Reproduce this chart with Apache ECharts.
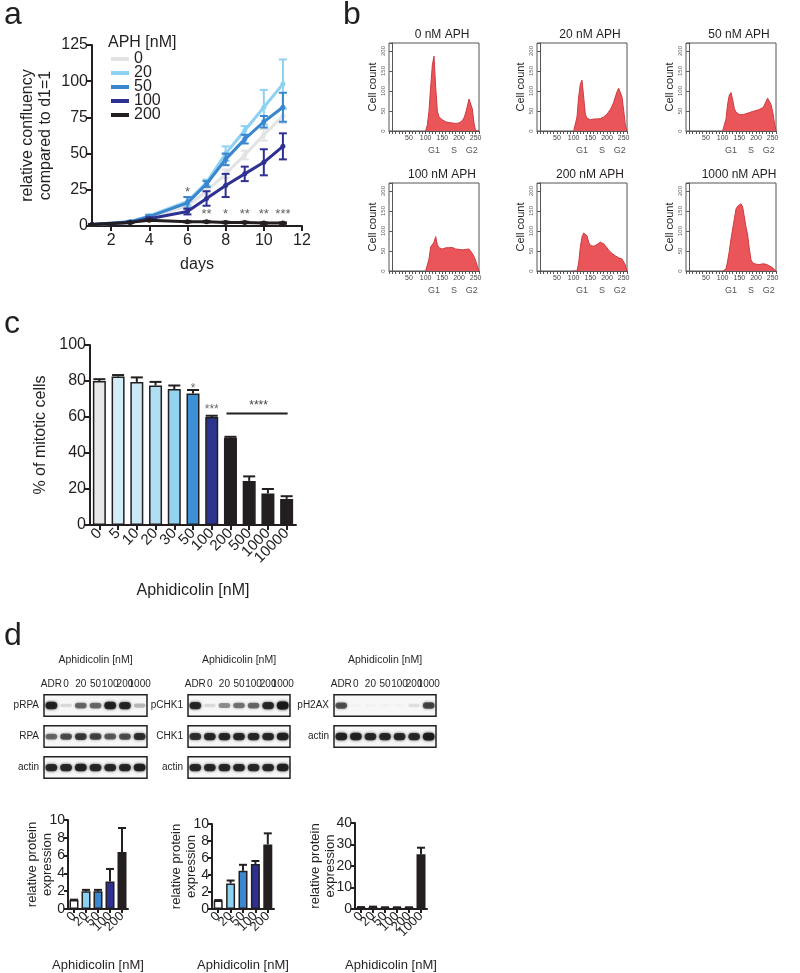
<!DOCTYPE html>
<html>
<head>
<meta charset="utf-8">
<script src="https://cdn.jsdelivr.net/npm/echarts@6/dist/echarts.min.js"></script>
<style>
body{margin:0;background:#fff}
#main{width:800px;height:973px}
</style>
</head>
<body>
<div id="main"></div>
<script>
// a - confluency curves
var days = [1, 3, 4, 6, 7, 8, 9, 10, 11];
var aphNames = ['0', '20', '50', '100', '200'];
var conf0 = [1, 2.5, 5.5, 14, 24, 36, 49, 63, 76];
var conf20 = [1, 3, 7, 17, 30, 50, 66, 82, 98];
var conf50 = [1, 3, 6.5, 16, 29, 46, 60, 72, 82];
var conf100 = [1, 2.5, 5, 10, 19, 28, 36, 44, 55];
var conf200 = [1, 2.5, 4, 3, 3, 2.5, 2.5, 2, 2];
var err0 = [0, 0.5, 0.5, 1, 2, 3, 3, 4, 5];
var err20 = [0, 0.5, 1, 3, 2, 5, 3, 12, 17];
var err50 = [0, 0.5, 1, 4, 2, 4, 3, 4, 10];
var err100 = [0, 0.5, 1, 2, 5, 8, 5, 9, 9];
var err200 = [0, 0.3, 0.5, 0.5, 0.5, 0.5, 0.5, 0.5, 0.5];
var dayTicks = [2, 4, 6, 8, 10, 12];
var sigDays = [6, 7, 8, 9, 10, 11];
var sigY = [23, 8, 8, 8, 8, 8];
var sigText = ['*', '**', '*', '**', '**', '***'];

// b - DNA content histograms
var histTitles = ['0 nM APH', '20 nM APH', '50 nM APH', '100 nM APH', '200 nM APH', '1000 nM APH'];
var histX = [100, 105, 110, 115, 120, 125, 130, 135, 140, 145, 150, 155, 160, 165, 170, 175, 180, 185, 190, 195, 200, 205, 210, 215, 220, 225, 230, 235, 240, 245, 250, 255, 260];
var hist0 = [0, 15, 50, 110, 165, 187, 110, 50, 35, 30, 28, 25, 23, 22, 21, 21, 20, 20, 19, 19, 20, 22, 26, 33, 45, 62, 80, 78, 55, 20, 0, 0, 0];
var hist20 = [0, 0, 35, 85, 118, 127, 85, 42, 32, 29, 28, 29, 30, 31, 30, 32, 31, 33, 35, 38, 42, 47, 54, 62, 72, 85, 98, 107, 106, 85, 52, 15, 0];
var hist50 = [0, 0, 30, 68, 90, 96, 78, 56, 47, 43, 41, 40, 41, 42, 43, 44, 46, 47, 49, 50, 51, 52, 54, 55, 58, 64, 74, 82, 78, 66, 48, 22, 0];
var hist100 = [0, 0, 30, 60, 66, 72, 86, 66, 58, 56, 55, 57, 58, 56, 58, 60, 59, 57, 55, 56, 54, 55, 53, 55, 54, 57, 55, 50, 44, 36, 26, 12, 0];
var hist200 = [0, 0, 0, 20, 60, 85, 95, 100, 88, 72, 64, 60, 62, 65, 66, 70, 72, 70, 68, 64, 58, 52, 48, 44, 40, 38, 36, 33, 32, 30, 28, 15, 0];
var hist1000 = [0, 0, 5, 25, 50, 80, 105, 130, 155, 162, 166, 168, 160, 135, 110, 90, 55, 28, 20, 18, 17, 16, 16, 17, 18, 19, 17, 15, 13, 11, 8, 4, 0];
var phaseX = [125, 185, 238];
var phaseText = ['G1', 'S', 'G2'];

// c - mitotic cells
var mitoCat = ['0', '5', '10', '20', '30', '50', '100', '200', '500', '1000', '10000'];
var mitoVal = [80, 82.5, 79.5, 77.5, 75.5, 73, 60, 48.5, 24.5, 17.5, 14.5];
var mitoErr = [1, 0.8, 2.5, 2, 2, 2, 0.7, 0.5, 2.5, 2.5, 1.5];
var mitoSigIdx = [5, 6];
var mitoSigY = [76, 64];
var mitoSigText = ['*', '***'];

// d - blots (band intensity 0..1)
var lanes = ['ADR', '0', '20', '50', '100', '200', '1000'];
var blot1Rows = ['pRPA', 'RPA', 'actin'];
var pRPA = [0.9, 0.12, 0.55, 0.55, 0.9, 0.85, 0.25];
var RPA = [0.55, 0.65, 0.75, 0.7, 0.6, 0.65, 0.8];
var actin1 = [0.85, 0.85, 0.9, 0.85, 0.85, 0.85, 0.9];
var blot2Rows = ['pCHK1', 'CHK1', 'actin'];
var pCHK1 = [0.85, 0.12, 0.4, 0.5, 0.55, 0.85, 1.0];
var CHK1 = [0.8, 0.85, 0.85, 0.85, 0.85, 0.85, 0.9];
var actin2 = [0.85, 0.85, 0.85, 0.85, 0.85, 0.85, 0.9];
var blot3Rows = ['pH2AX', 'actin'];
var pH2AX = [0.65, 0.02, 0.02, 0.02, 0.02, 0.1, 0.7];
var actin3 = [0.9, 0.9, 0.85, 0.85, 0.85, 0.85, 0.95];

// d - quantification
var qCat = ['0', '20', '50', '100', '200'];
var qRPA = [1.0, 2.0, 2.0, 3.1, 6.4];
var qRPAErr = [0.05, 0.15, 0.15, 1.4, 2.7];
var qCHK1 = [1.0, 3.0, 4.5, 5.3, 7.6];
var qCHK1Err = [0.05, 0.35, 0.7, 0.35, 1.3];
var qCat3 = ['0', '20', '50', '100', '200', '1000'];
var qH2AX = [0.8, 0.9, 0.7, 0.7, 0.7, 25.5];
var qH2AXErr = [0.1, 0.2, 0.1, 0.1, 0.1, 3];

var FONT = 'Liberation Sans, Arial, sans-serif';
var INK = '#231f20';
var aColors = ['#e2e3e4', '#8dd1f2', '#3a86cf', '#2e3192', INK];
var mitoColors = ['#e6e7e8', '#d4eef9', '#c9e9f7', '#b0dff3', '#93d3ef', '#3d8fd6', '#2b3590', INK, INK, INK, INK];
var qColors = ['#ffffff', '#8dd1f2', '#3a86cf', '#2e3192', INK];

var grids = [], xAxes = [], yAxes = [], series = [], texts = [];

function errSeries(gi, color, data, capW, both, z) {
    series.push({
        type: 'custom', xAxisIndex: gi, yAxisIndex: gi, data: data, z: z || 4, silent: true,
        renderItem: function (params, api) {
            var top = api.coord([api.value(0), api.value(2)]);
            var bot = api.coord([api.value(0), api.value(1)]);
            var kids = [
                {type: 'line', shape: {x1: top[0], y1: top[1], x2: bot[0], y2: bot[1]}, style: {stroke: color, lineWidth: 2}},
                {type: 'line', shape: {x1: top[0] - capW, y1: top[1], x2: top[0] + capW, y2: top[1]}, style: {stroke: color, lineWidth: 2}}
            ];
            if (both) {
                kids.push({type: 'line', shape: {x1: bot[0] - capW, y1: bot[1], x2: bot[0] + capW, y2: bot[1]}, style: {stroke: color, lineWidth: 2}});
            }
            return {type: 'group', children: kids};
        }
    });
}

function axisLine(w, c) {
    return {show: true, lineStyle: {color: c || INK, width: w || 2}};
}

// ---------- a ----------
grids.push({left: 92, top: 45, width: 210, height: 181});
xAxes.push({
    gridIndex: 0, type: 'value', min: 1, max: 12,
    axisLine: axisLine(2),
    axisTick: {show: true, customValues: dayTicks, length: 5, lineStyle: {color: INK, width: 2}},
    axisLabel: {customValues: dayTicks, fontSize: 16, color: INK, margin: 7},
    splitLine: {show: false},
    name: 'days', nameLocation: 'middle', nameGap: 31,
    nameTextStyle: {fontSize: 16, color: INK}
});
yAxes.push({
    gridIndex: 0, type: 'value', min: 0, max: 125, interval: 25,
    axisLine: axisLine(2),
    axisTick: {show: true, length: 5, lineStyle: {color: INK, width: 2}},
    axisLabel: {fontSize: 16, color: INK, margin: 4},
    splitLine: {show: false},
    name: 'relative confluency\ncompared to d1=1', nameLocation: 'middle', nameGap: 37, nameMoveOverlap: false,
    nameTextStyle: {fontSize: 16, color: INK, lineHeight: 18}
});
var confData = [conf0, conf20, conf50, conf100, conf200];
var errData = [err0, err20, err50, err100, err200];
for (var k = 0; k < 5; k++) {
    var pts = [], ebs = [];
    for (var i = 0; i < days.length; i++) {
        pts.push([days[i], confData[k][i]]);
        ebs.push([days[i], confData[k][i] - errData[k][i], confData[k][i] + errData[k][i]]);
    }
    series.push({
        name: aphNames[k], type: 'line', xAxisIndex: 0, yAxisIndex: 0, data: pts,
        color: aColors[k], lineStyle: {width: 3}, symbol: 'circle', symbolSize: 5, z: 3 + k
    });
    errSeries(0, aColors[k], ebs, 4, true, 3 + k);
}
var sigPts = [];
for (var i = 0; i < sigDays.length; i++) sigPts.push([sigDays[i], sigY[i]]);
series.push({
    type: 'scatter', xAxisIndex: 0, yAxisIndex: 0, data: sigPts, symbolSize: 1,
    itemStyle: {color: 'rgba(0,0,0,0)'}, z: 10,
    label: {show: true, position: 'inside', fontSize: 13, color: '#333',
        formatter: function (p) { return sigText[p.dataIndex]; }}
});

// ---------- b ----------
var hists = [hist0, hist20, hist50, hist100, hist200, hist1000];
var hLeft = [389, 537, 686];
var hTop = [43, 183];
for (var h = 0; h < 6; h++) {
    var gi = grids.length;
    var gl = hLeft[h % 3], gt = hTop[Math.floor(h / 3)];
    grids.push({left: gl, top: gt, width: 90, height: 88, show: true, borderColor: '#555', borderWidth: 1});
    xAxes.push({
        gridIndex: gi, type: 'value', min: -10, max: 260, interval: 10,
        axisLine: axisLine(1, '#555'),
        axisTick: {show: true, length: 3, lineStyle: {color: '#555'}},
        axisLabel: {fontSize: 7, color: '#444', margin: 4,
            formatter: function (v) { return (v > 0 && v % 50 === 0) ? v : ''; }},
        splitLine: {show: false}
    });
    yAxes.push({
        gridIndex: gi, type: 'value', min: 0, max: 220, interval: 50,
        axisLine: axisLine(1, '#555'),
        axisTick: {show: true, length: 3, lineStyle: {color: '#555'}},
        axisLabel: {fontSize: 6, color: '#666', rotate: 90, margin: 3,
            formatter: function (v) { return v % 50 === 0 ? v : ''; }},
        splitLine: {show: false},
        name: 'Cell count', nameLocation: 'middle', nameGap: 11, nameMoveOverlap: false,
        nameTextStyle: {fontSize: 11, color: INK}
    });
    var hp = [];
    for (var i = 0; i < histX.length; i++) hp.push([histX[i], hists[h][i]]);
    series.push({
        type: 'line', xAxisIndex: gi, yAxisIndex: gi, data: hp, symbol: 'none',
        lineStyle: {color: '#cf3a40', width: 1}, areaStyle: {color: '#ea555a', opacity: 1}
    });
    var php = [];
    for (var i = 0; i < phaseX.length; i++) php.push([phaseX[i], 0]);
    series.push({
        type: 'scatter', xAxisIndex: gi, yAxisIndex: gi, data: php, symbolSize: 1, clip: false,
        itemStyle: {color: 'rgba(0,0,0,0)'},
        label: {show: true, position: 'bottom', distance: 15, fontSize: 9, color: INK,
            formatter: function (p) { return phaseText[p.dataIndex]; }}
    });
    texts.push({type: 'text', x: gl + 53, y: gt - 8,
        style: {text: histTitles[h], fill: INK, align: 'center', verticalAlign: 'middle', font: '12px ' + FONT}});
}

// ---------- c ----------
var gc = grids.length;
grids.push({left: 90, top: 345, width: 206, height: 180});
xAxes.push({
    gridIndex: gc, type: 'category', data: mitoCat,
    axisLine: axisLine(2),
    axisTick: {show: true, alignWithLabel: true, length: 5, lineStyle: {color: INK, width: 2}},
    axisLabel: {interval: 0, rotate: 45, fontSize: 15, color: INK, margin: 6},
    name: 'Aphidicolin [nM]', nameLocation: 'middle', nameGap: 58,
    nameTextStyle: {fontSize: 16, color: INK}
});
yAxes.push({
    gridIndex: gc, type: 'value', min: 0, max: 100, interval: 20,
    axisLine: axisLine(2),
    axisTick: {show: true, length: 5, lineStyle: {color: INK, width: 2}},
    axisLabel: {fontSize: 16, color: INK, margin: 4},
    splitLine: {show: false},
    name: '% of mitotic cells', nameLocation: 'middle', nameGap: 41, nameMoveOverlap: false,
    nameTextStyle: {fontSize: 16, color: INK}
});
series.push({
    type: 'bar', xAxisIndex: gc, yAxisIndex: gc, data: mitoVal, barWidth: 13,
    itemStyle: {borderColor: INK, borderWidth: 1.5,
        color: function (p) { return mitoColors[p.dataIndex]; }}
});
var mEb = [];
for (var i = 0; i < mitoVal.length; i++) mEb.push([i, mitoVal[i], mitoVal[i] + mitoErr[i]]);
errSeries(gc, INK, mEb, 6, false, 5);
var mSig = [];
for (var i = 0; i < mitoSigIdx.length; i++) mSig.push([mitoSigIdx[i], mitoSigY[i]]);
series.push({
    type: 'scatter', xAxisIndex: gc, yAxisIndex: gc, data: mSig, symbolSize: 1,
    itemStyle: {color: 'rgba(0,0,0,0)'},
    label: {show: true, position: 'inside', fontSize: 12, color: '#444',
        formatter: function (p) { return mitoSigText[p.dataIndex]; }}
});
series.push({
    type: 'custom', xAxisIndex: gc, yAxisIndex: gc, data: [[7, 10, 62]], silent: true,
    renderItem: function (params, api) {
        var a = api.coord([api.value(0), api.value(2)]);
        var b = api.coord([api.value(1), api.value(2)]);
        return {type: 'group', children: [
            {type: 'line', shape: {x1: a[0] - 4, y1: a[1], x2: b[0] + 1, y2: b[1]}, style: {stroke: INK, lineWidth: 2}},
            {type: 'text', style: {x: (a[0] + b[0]) / 2, y: a[1] - 8, text: '****', fill: '#444', font: '12px ' + FONT, align: 'center', verticalAlign: 'middle'}}
        ]};
    }
});

// ---------- d blots ----------
function blot(left, width, rows, lanesVals) {
    var gi = grids.length;
    grids.push({left: left, top: 690, width: width, height: 31 * rows.length});
    xAxes.push({
        gridIndex: gi, type: 'category', data: lanes, position: 'top',
        axisLine: {show: false}, axisTick: {show: false},
        axisLabel: {interval: 0, fontSize: 10, color: INK, margin: 1},
        name: 'Aphidicolin [nM]', nameLocation: 'middle', nameGap: 24,
        nameTextStyle: {fontSize: 10.5, color: INK}
    });
    yAxes.push({
        gridIndex: gi, type: 'category', data: rows, inverse: true,
        axisLine: {show: false}, axisTick: {show: false},
        axisLabel: {fontSize: 10, color: INK, margin: 5}
    });
    var boxes = [], bands = [];
    for (var r = 0; r < rows.length; r++) {
        boxes.push([0, r]);
        for (var l = 0; l < lanes.length; l++) bands.push([l, r, lanesVals[r][l]]);
    }
    series.push({
        type: 'custom', xAxisIndex: gi, yAxisIndex: gi, data: boxes, silent: true, z: 2,
        renderItem: function (params, api) {
            var c = api.coord([0, api.value(1)]);
            var cs = params.coordSys;
            var bh = api.size([0, 1])[1] * 0.7;
            return {type: 'rect', shape: {x: cs.x, y: c[1] - bh / 2, width: cs.width, height: bh},
                style: {fill: '#f7f7f7', stroke: '#222', lineWidth: 1.5}};
        }
    });
    series.push({
        type: 'custom', xAxisIndex: gi, yAxisIndex: gi, data: bands, silent: true, z: 3,
        renderItem: function (params, api) {
            var c = api.coord([api.value(0), api.value(1)]);
            var v = api.value(2);
            var w = api.size([1, 0])[0] * 0.8;
            var bh = 3 + 5 * v;
            var col = 'rgba(25,25,25,' + v + ')';
            return {type: 'rect', shape: {x: c[0] - w / 2, y: c[1] - bh / 2, width: w, height: bh, r: bh / 2},
                style: {fill: col, shadowBlur: 3, shadowColor: col}};
        }
    });
}
blot(44, 103, blot1Rows, [pRPA, RPA, actin1]);
blot(188, 102, blot2Rows, [pCHK1, CHK1, actin2]);
blot(334, 102, blot3Rows, [pH2AX, actin3]);

// ---------- d quantification ----------
function quant(left, top, width, height, cats, vals, errs, max, interval, colors, yGap) {
    var gi = grids.length;
    grids.push({left: left, top: top, width: width, height: height});
    xAxes.push({
        gridIndex: gi, type: 'category', data: cats,
        axisLine: axisLine(2),
        axisTick: {show: true, alignWithLabel: true, length: 4, lineStyle: {color: INK, width: 2}},
        axisLabel: {interval: 0, rotate: 45, fontSize: 13, color: INK, margin: 5},
        name: 'Aphidicolin [nM]', nameLocation: 'middle', nameGap: 50,
        nameTextStyle: {fontSize: 13, color: INK}
    });
    yAxes.push({
        gridIndex: gi, type: 'value', min: 0, max: max, interval: interval,
        axisLine: axisLine(2),
        axisTick: {show: true, length: 4, lineStyle: {color: INK, width: 2}},
        axisLabel: {fontSize: 14, color: INK, margin: 3},
        splitLine: {show: false},
        name: 'relative protein\nexpression', nameLocation: 'middle', nameGap: yGap, nameMoveOverlap: false,
        nameTextStyle: {fontSize: 13, color: INK, lineHeight: 15}
    });
    series.push({
        type: 'bar', xAxisIndex: gi, yAxisIndex: gi, data: vals, barWidth: 9,
        itemStyle: {borderColor: INK, borderWidth: 1.5,
            color: function (p) { return colors[p.dataIndex] || INK; }}
    });
    var eb = [];
    for (var i = 0; i < vals.length; i++) eb.push([i, vals[i], vals[i] + errs[i]]);
    errSeries(gi, INK, eb, 4, false, 5);
}
quant(68, 820, 60, 93, qCat, qRPA, qRPAErr, 10, 2, qColors, 13);
quant(212, 824, 62, 89, qCat, qCHK1, qCHK1Err, 10, 2, qColors, 13);
quant(355, 823, 72, 90, qCat3, qH2AX, qH2AXErr, 40, 10, [], 17);

// panel letters etc
var letters = [['a', 4, 15], ['b', 343, 15], ['c', 4, 324], ['d', 4, 636]];
for (var i = 0; i < letters.length; i++) {
    texts.push({type: 'text', x: letters[i][1], y: letters[i][2],
        style: {text: letters[i][0], font: '32px ' + FONT, fill: INK, verticalAlign: 'middle'}});
}
texts.push({type: 'text', x: 108, y: 43,
    style: {text: 'APH [nM]', font: '16px ' + FONT, fill: INK, verticalAlign: 'middle'}});

var myChart = echarts.init(document.getElementById('main'));
var option = {
    animation: false,
    backgroundColor: '#fff',
    textStyle: {fontFamily: FONT},
    legend: {
        data: aphNames, orient: 'vertical', left: 111, top: 51, padding: 0,
        itemGap: -2, itemWidth: 18, itemHeight: 4, icon: 'rect',
        textStyle: {fontSize: 16, color: INK, lineHeight: 14, padding: 0}
    },
    grid: grids,
    xAxis: xAxes,
    yAxis: yAxes,
    series: series,
    graphic: texts
};
myChart.setOption(option);
</script>
</body>
</html>
